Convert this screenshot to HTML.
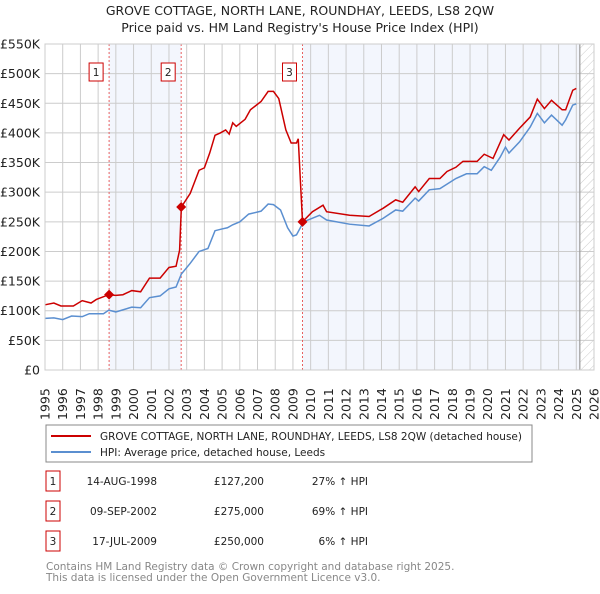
<!DOCTYPE html>
<html><head><meta charset="utf-8"><style>
body{margin:0;background:#fff;width:600px;height:590px;overflow:hidden;font-family:"DejaVu Sans","Liberation Sans",sans-serif;}
svg text{font-family:"DejaVu Sans","Liberation Sans",sans-serif;}
</style></head><body>
<svg id="chart" width="600" height="590" viewBox="0 0 600 590">
<defs><pattern id="hatch" width="6" height="6" patternUnits="userSpaceOnUse" patternTransform="rotate(45)"><line x1="0" y1="0" x2="0" y2="6" stroke="#ccc" stroke-width="1"/></pattern></defs>
<text x="300" y="15" text-anchor="middle" font-size="12.5" fill="#222">GROVE COTTAGE, NORTH LANE, ROUNDHAY, LEEDS, LS8 2QW</text>
<text x="300" y="32" text-anchor="middle" font-size="12.5" fill="#222">Price paid vs. HM Land Registry's House Price Index (HPI)</text>
<g id="plot"></g>
<g>
<rect x="46" y="425" width="486" height="37" fill="#fff" stroke="#888"/>
<line x1="51" y1="436" x2="91" y2="436" stroke="#cc0000" stroke-width="2"/>
<text x="100" y="440" font-size="10.5" fill="#222">GROVE COTTAGE, NORTH LANE, ROUNDHAY, LEEDS, LS8 2QW (detached house)</text>
<line x1="51" y1="452" x2="91" y2="452" stroke="#5b8fd0" stroke-width="2"/>
<text x="100" y="456" font-size="10.5" fill="#222">HPI: Average price, detached house, Leeds</text>
</g>
<g id="table" font-size="10.5" fill="#222"></g>
<text x="46" y="570" font-size="10.5" fill="#888">Contains HM Land Registry data © Crown copyright and database right 2025.</text>
<text x="46" y="581" font-size="10.5" fill="#888">This data is licensed under the Open Government Licence v3.0.</text>
</svg>
<script>
const hpiDates=[1995.0,1995.5,1996.0,1996.5,1997.1,1997.5,1998.3,1998.6,1999.0,1999.9,2000.4,2000.9,2001.5,2002.0,2002.4,2002.7,2003.2,2003.7,2004.2,2004.6,2005.0,2005.3,2005.6,2006.0,2006.5,2007.2,2007.6,2007.9,2008.3,2008.7,2009.0,2009.2,2009.6,2010.5,2010.9,2012.2,2013.3,2014.1,2014.8,2015.2,2015.9,2016.1,2016.7,2017.3,2018.2,2018.8,2019.4,2019.8,2020.2,2020.7,2021.0,2021.2,2021.8,2022.4,2022.8,2023.2,2023.6,2024.2,2024.4,2024.8,2025.0];
const hpiValues=[87,88,85,91,90,95,95,101,98,106,105,122,125,137,140,162,180,200,205,235,238,240,245,250,263,268,280,279,270,240,226,228,250,261,253,246,243,256,270,268,290,285,304,306,323,331,331,343,337,359,376,366,385,410,433,417,430,413,422,447,449];
const priceDates=[1995.0,1995.5,1995.9,1996.6,1997.1,1997.6,1997.9,1998.6,1999.0,1999.4,1999.9,2000.4,2000.9,2001.5,2002.0,2002.4,2002.6,2002.7,2003.2,2003.7,2004.0,2004.3,2004.6,2004.9,2005.2,2005.4,2005.6,2005.8,2006.3,2006.6,2007.2,2007.6,2007.9,2008.2,2008.6,2008.9,2009.2,2009.3,2009.54,2010.1,2010.7,2010.9,2012.2,2013.3,2014.1,2014.8,2015.2,2015.9,2016.1,2016.7,2017.3,2017.7,2018.2,2018.6,2019.4,2019.8,2020.3,2020.9,2021.2,2021.8,2022.4,2022.8,2023.2,2023.6,2024.2,2024.4,2024.8,2025.0];
const priceValues=[110,113,108,108,117,113,119,127,126,127,134,132,155,155,173,175,202,275,298,337,341,366,396,400,405,398,417,411,423,439,453,470,470,458,405,383,383,390,250,267,278,267,261,259,273,287,283,309,301,323,323,335,342,352,352,364,357,397,388,408,427,457,441,455,439,439,472,475];
const saleDates=[1998.62,2002.69,2009.54];
const saleValues=[127.2,275,250];
const saleLabels=["1","2","3"];
const saleDateText=["14-AUG-1998","09-SEP-2002","17-JUL-2009"];
const salePriceText=["£127,200","£275,000","£250,000"];
const salePctText=["27% ↑ HPI","69% ↑ HPI","6% ↑ HPI"];
const yTicks=[0,50,100,150,200,250,300,350,400,450,500,550];
const yTickLabels=["£0","£50K","£100K","£150K","£200K","£250K","£300K","£350K","£400K","£450K","£500K","£550K"];
const xTicks=[1995,1996,1997,1998,1999,2000,2001,2002,2003,2004,2005,2006,2007,2008,2009,2010,2011,2012,2013,2014,2015,2016,2017,2018,2019,2020,2021,2022,2023,2024,2025,2026];

const X0=45,X1=594,Y0=370,Y1=44,NS="http://www.w3.org/2000/svg";
const xs=t=>X0+(t-1995)/31*(X1-X0);
const ys=v=>Y0-v/550*(Y0-Y1);
const plot=document.getElementById('plot');
function mk(tag,attrs,parent){const e=document.createElementNS(NS,tag);for(const k in attrs)e.setAttribute(k,attrs[k]);(parent||plot).appendChild(e);return e;}
let el;
el=mk('rect',{x:X0,y:Y1,width:X1-X0,height:Y0-Y1,fill:'#fff'});


el=mk('rect',{x:xs(saleDates[0]),y:Y1,width:xs(saleDates[1])-xs(saleDates[0]),height:Y0-Y1,fill:'#f3f6fd'});


el=mk('rect',{x:xs(saleDates[2]),y:Y1,width:xs(2025.2)-xs(saleDates[2]),height:Y0-Y1,fill:'#f3f6fd'});


el=mk('rect',{x:xs(2025.2),y:Y1,width:X1-xs(2025.2),height:Y0-Y1,fill:'url(#hatch)'});


yTicks.forEach((v,i)=>{
  el=mk('line',{x1:X0,x2:X1,y1:ys(v),y2:ys(v),stroke:'#ccc','stroke-width':1});
  
  
  el=mk('text',{x:X0-5,y:ys(v)+4.5,'text-anchor':'end','font-size':12.5,fill:'#222'});
  el.textContent=yTickLabels[i];
  
  
});
xTicks.forEach(t=>{
  el=mk('line',{x1:xs(t),x2:xs(t),y1:Y1,y2:Y0,stroke:'#ccc','stroke-width':1});
  
  
  el=mk('text',{x:0,y:0,'font-size':12.5,fill:'#222',transform:`translate(${xs(t)+4.5},${420}) rotate(-90)`});
  el.textContent=t;
  
  
});
el=mk('line',{x1:xs(2025.2),x2:xs(2025.2),y1:Y1,y2:Y0,stroke:'#999','stroke-width':1.2});


saleDates.forEach((d,i)=>{
  el=mk('line',{x1:xs(d),x2:xs(d),y1:Y1,y2:Y0,stroke:'#e86060','stroke-width':1,'stroke-dasharray':'2,2'});
  
  
});
el=mk('polyline',{points:hpiDates.map((d,i)=>xs(d)+','+ys(hpiValues[i])).join(' '),fill:'none',stroke:'#5b8fd0','stroke-width':1.5});


el=mk('polyline',{points:priceDates.map((d,i)=>xs(d)+','+ys(priceValues[i])).join(' '),fill:'none',stroke:'#cc0000','stroke-width':1.5});


saleDates.forEach((d,i)=>{
  const cx=xs(d),cy=ys(saleValues[i]);
  el=mk('polygon',{points:`${cx},${cy-5} ${cx+5},${cy} ${cx},${cy+5} ${cx-5},${cy}`,fill:'#cc0000'});
  
  
  el=mk('rect',{x:cx-20,y:63,width:14,height:18,fill:'#fff',stroke:'#cc0000','stroke-width':1});
  
  
  el=mk('text',{x:cx-13,y:76,'text-anchor':'middle','font-size':10.5,fill:'#222'});
  el.textContent=saleLabels[i];
  
  
});
el=mk('rect',{x:X0,y:Y1,width:X1-X0,height:Y0-Y1,fill:'none',stroke:'#ccc'});


const tbl=document.getElementById('table');
saleLabels.forEach((l,i)=>{
  const y=483+i*30;
  el=mk('rect',{x:46,y:y-12,width:14,height:20,fill:'#fff',stroke:'#cc0000'},tbl);
  
  
  el=mk('text',{x:53,y:y+2,'text-anchor':'middle'},tbl);el.textContent=l;
  
  
  el=mk('text',{x:157,y:y+2,'text-anchor':'end'},tbl);el.textContent=saleDateText[i];
  
  
  el=mk('text',{x:264,y:y+2,'text-anchor':'end'},tbl);el.textContent=salePriceText[i];
  
  
  el=mk('text',{x:368,y:y+2,'text-anchor':'end'},tbl);el.textContent=salePctText[i];
  
  
});
</script>
</body></html>
